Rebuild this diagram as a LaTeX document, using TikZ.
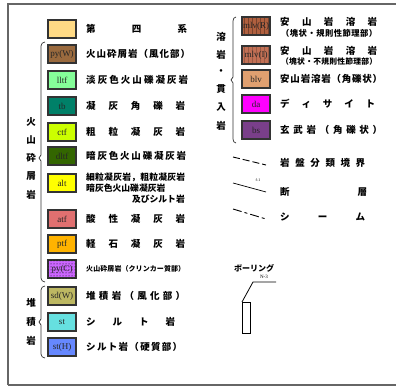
\documentclass[tikz,border=0pt]{standalone}
\usepackage{fontspec}
\setmainfont{Liberation Serif}
\newfontfamily\jp{Noto Sans CJK JP}
\usetikzlibrary{patterns}
\newcommand\spr[2]{\hbox to #1pt{#2}}
\definecolor{cq}{HTML}{FFDA85}
\definecolor{cpyw}{HTML}{9A6A3E}
\definecolor{clltf}{HTML}{85FF99}
\definecolor{ctb}{HTML}{008068}
\definecolor{cctf}{HTML}{CCFF00}
\definecolor{cdltf}{HTML}{336600}
\definecolor{calt}{HTML}{FFFF00}
\definecolor{catf}{HTML}{E07070}
\definecolor{cptf}{HTML}{FFB300}
\definecolor{cpyc}{HTML}{CC66FF}
\definecolor{csdw}{HTML}{BDB862}
\definecolor{cst}{HTML}{66E0E0}
\definecolor{csth}{HTML}{6688FF}
\definecolor{cmlvr}{HTML}{B0603F}
\definecolor{cmlvi}{HTML}{C27055}
\definecolor{cblv}{HTML}{E0A070}
\definecolor{cda}{HTML}{FF00FF}
\definecolor{cbs}{HTML}{7A3F8A}
\begin{document}
\begin{tikzpicture}[x=1pt,y=-1pt,
  legbox/.style={draw=black!80, line width=1.1pt, minimum width=28pt, minimum height=18pt,
    inner sep=0pt, font=\fontsize{9}{9}\selectfont, text=black!85},
  stripes/.style={path picture={\foreach \i in {-12,-8,...,13}
      \draw[#1, line width=0.4pt] ([xshift=\i pt]path picture bounding box.north) -- ([xshift=\i pt]path picture bounding box.south);}},
  lab/.style={anchor=west, inner sep=0pt, font=\jp\bfseries\fontsize{9.5}{10}\selectfont},
  smlab/.style={anchor=west, inner sep=0pt, font=\jp\bfseries\fontsize{8.3}{9}\selectfont},
  vlab/.style={inner sep=0pt, font=\jp\bfseries\fontsize{9.5}{10}\selectfont},
  brk/.style={line width=0.7pt, black!80},
  sym/.style={line width=0.9pt}]
\useasboundingbox (0,0) rectangle (396,390);
\draw[line width=1.5pt, black!60] (8,385) -- (8,4) -- (402,4);
\draw[line width=1.5pt, black!60] (8,385) -- (402,385);

% left column boxes
\node[legbox, fill=cq] (q) at (62,29) {};
\node[legbox, fill=cpyw] (pyw) at (62,54) {py(W)};
\node[legbox, fill=clltf] (lltf) at (62,80) {lltf};
\node[legbox, fill=ctb] (tb) at (62,106) {tb};
\node[legbox, fill=cctf] (ctf) at (62,132) {ctf};
\node[legbox, fill=cdltf] (dltf) at (62,156) {dltf};
\node[legbox, fill=calt] (alt) at (62,183) {alt};
\node[legbox, fill=catf] (atf) at (62,219) {atf};
\node[legbox, fill=cptf] (ptf) at (62,244) {ptf};
\node[legbox, fill=cpyc, postaction={pattern=dots, pattern color=black}] (pyc) at (62,269) {py(C)};
\node[legbox, fill=csdw] (sdw) at (62,296) {sd(W)};
\node[legbox, fill=cst] (st) at (62,322) {st};
\node[legbox, fill=csth] (sth) at (62,347) {st(H)};

% left column labels
\node[lab] (tq) at (86,29) {\spr{101}{第\hfil 四\hfil 系}};
\node[lab] (tpyw) at (86,54) {\spr{104}{火\hfil 山\hfil 砕\hfil 屑\hfil 岩\hfil （\hfil 風\hfil 化\hfil 部\hfil ）}};
\node[lab] (tlltf) at (86,80) {\spr{102}{淡\hfil 灰\hfil 色\hfil 火\hfil 山\hfil 礫\hfil 凝\hfil 灰\hfil 岩}};
\node[lab] (ttb) at (86,106) {\spr{99}{凝\hfil 灰\hfil 角\hfil 礫\hfil 岩}};
\node[lab] (tctf) at (86,132) {\spr{99}{粗\hfil 粒\hfil 凝\hfil 灰\hfil 岩}};
\node[lab] (tdltf) at (86,156) {\spr{100}{暗\hfil 灰\hfil 色\hfil 火\hfil 山\hfil 礫\hfil 凝\hfil 灰\hfil 岩}};
\node[smlab, font=\jp\bfseries\fontsize{8.8}{9}\selectfont] (talt1) at (86,177) {\spr{99}{細\hfil 粒\hfil 凝\hfil 灰\hfil 岩\hfil ，\hfil 粗\hfil 粒\hfil 凝\hfil 灰\hfil 岩}};
\node[smlab, font=\jp\bfseries\fontsize{8.8}{9}\selectfont] (talt2) at (86,188) {暗灰色火山礫凝灰岩};
\node[smlab, font=\jp\bfseries\fontsize{8.8}{9}\selectfont, anchor=east] (talt3) at (185,199) {及びシルト岩};
\node[lab] (tatf) at (86,219) {\spr{99}{酸\hfil 性\hfil 凝\hfil 灰\hfil 岩}};
\node[lab] (tptf) at (86,244) {\spr{99}{軽\hfil 石\hfil 凝\hfil 灰\hfil 岩}};
\node[smlab, font=\jp\bfseries\fontsize{7}{8}\selectfont] (tpyc) at (86,269) {\spr{99}{火\hfil 山\hfil 砕\hfil 屑\hfil 岩\hfil （\hfil ク\hfil リ\hfil ン\hfil カ\hfil ー\hfil 質\hfil 部\hfil ）}};
\node[lab] (tsdw) at (86,296) {\spr{99}{堆\hfil 積\hfil 岩\hfil （\hfil 風\hfil 化\hfil 部\hfil ）}};
\node[lab] (tst) at (86,322) {\spr{89}{シ\hfil ル\hfil ト\hfil 岩}};
\node[lab] (tsth) at (86,347) {\spr{96}{シ\hfil ル\hfil ト\hfil 岩\hfil （\hfil 硬\hfil 質\hfil 部\hfil ）}};

% left brackets
\draw[brk] (45,42) to[out=180,in=90] (41,46) -- (41,155) -- (39,158) -- (41,161) -- (41,278) to[out=-90,in=180] (45,282);
\draw[brk] (45,286) to[out=180,in=90] (41,290) -- (41,319) -- (39,322) -- (41,325) -- (41,354) to[out=-90,in=180] (45,358);
\foreach \c/\yy in {火/122, 山/140, 砕/158, 屑/176, 岩/195} \node[vlab] at (31,\yy) {\c};
\foreach \c/\yy in {堆/303, 積/322, 岩/341} \node[vlab] at (31,\yy) {\c};

% right column boxes
\node[legbox, fill=cmlvr, stripes=cmlvr!70!black] (mlvr) at (256,26) {mlv(R)};
\node[legbox, fill=cmlvi, stripes=cmlvi!80!black] (mlvi) at (256,55) {mlv(I)};
\node[legbox, fill=cblv] (blv) at (256,79) {blv};
\node[legbox, fill=cda] (da) at (256,104) {da};
\node[legbox, fill=cbs] (bs) at (256,130) {bs};

\node[lab] (tmlvr1) at (280,22) {\spr{97}{安\hfil 山\hfil 岩\hfil 溶\hfil 岩}};
\node[smlab] (tmlvr2) at (281,33) {\spr{96}{（\hfil 塊\hfil 状\hfil ・\hfil 規\hfil 則\hfil 性\hfil 節\hfil 理\hfil 部\hfil ）}};
\node[lab] (tmlvi1) at (280,51) {\spr{97}{安\hfil 山\hfil 岩\hfil 溶\hfil 岩}};
\node[smlab, font=\jp\bfseries\fontsize{7.8}{9}\selectfont] (tmlvi2) at (281,62) {\spr{96}{（\hfil 塊\hfil 状\hfil ・\hfil 不\hfil 規\hfil 則\hfil 性\hfil 節\hfil 理\hfil 部\hfil ）}};
\node[lab] (tblv) at (280,79) {\spr{102}{安\hfil 山\hfil 岩\hfil 溶\hfil 岩\hfil （\hfil 角\hfil 礫\hfil 状\hfil ）}};
\node[lab] (tda) at (280,104) {\spr{95}{デ\hfil ィ\hfil サ\hfil イ\hfil ト}};
\node[lab] (tbs) at (280,130) {\spr{102}{玄\hfil 武\hfil 岩\hfil （\hfil 角\hfil 礫\hfil 状\hfil ）}};

\draw[brk] (236,17) to[out=180,in=90] (233,21) -- (233,77) -- (231,80) -- (233,83) -- (233,139) to[out=-90,in=180] (236,143);
\foreach \c/\yy in {溶/37, 岩/55, ・/72, 貫/89, 入/107, 岩/126} \node[vlab] at (221,\yy) {\c};

% line symbols
\coordinate (d1) at (233,157); \coordinate (d2) at (266,165);
\draw[sym, dash pattern=on 7pt off 3pt] (d1) -- (d2);
\node[lab] (tdiv) at (280,163) {\spr{85}{岩\hfil 盤\hfil 分\hfil 類\hfil 境\hfil 界}};
\coordinate (f1) at (233,183); \coordinate (f2) at (266,192);
\draw[sym, line width=0.7pt] (f1) -- (f2);
\node[inner sep=0pt, font=\fontsize{4}{4}\selectfont] (fl) at (258,180) {f-1};
\node[lab] (tflt) at (280,192) {\spr{87}{断\hfil 層}};
\coordinate (s1) at (233,209); \coordinate (s2) at (266,219);
\draw[sym, dash pattern=on 9pt off 3pt on 3pt off 3pt] (s1) -- (s2);
\node[lab] (tsm) at (280,217) {\spr{85}{シ\hfil ー\hfil ム}};

% boring
\node[inner sep=0pt, font=\jp\bfseries\fontsize{8}{8}\selectfont] (bor) at (254,268) {ボーリング};
\node[inner sep=0pt, font=\fontsize{5}{5}\selectfont] (n3) at (264,277) {N-3};
\node[draw, line width=0.8pt, minimum width=8pt, minimum height=31pt, inner sep=0pt, anchor=north west] (hole) at (242,302) {};
\coordinate (lead) at (276,282);
\draw[line width=0.8pt] (lead) -- (253,282) -- (hole.north west);
\end{tikzpicture}
\end{document}
